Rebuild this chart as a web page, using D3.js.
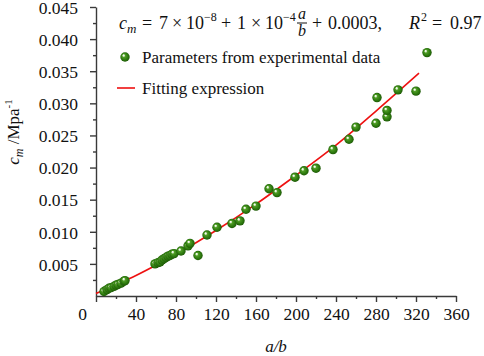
<!DOCTYPE html>
<html>
<head>
<meta charset="utf-8">
<script src="https://cdn.jsdelivr.net/npm/d3@7"></script>
<style>
  body { margin: 0; background: #fff; }
  svg { display: block; font-family: "Liberation Serif", "Times New Roman", serif; }
</style>
</head>
<body>
<div id="chart"></div>
<script>
// experimental points (a/b, c_m)
const ratio = [8, 11, 13, 15, 18, 20, 22, 25, 28, 29,
  59, 62, 64, 66, 68, 70, 72, 74, 76, 78,
  85, 92, 94, 102, 111, 121, 136, 144, 150, 160,
  173, 181, 199, 208, 220, 237, 253, 260, 280, 281,
  291, 291, 302, 320, 331];
const cm = [0.0007, 0.0010, 0.0012, 0.0013, 0.0015, 0.0017, 0.0018, 0.0020, 0.0023, 0.0024,
  0.0050, 0.0052, 0.0053, 0.0056, 0.0058, 0.0060, 0.0062, 0.0063, 0.0065, 0.0066,
  0.0070, 0.0078, 0.0082, 0.0063, 0.0095, 0.0107, 0.0113, 0.0117, 0.0135, 0.0140,
  0.0167, 0.0161, 0.0185, 0.0195, 0.0199, 0.0228, 0.0244, 0.0263, 0.0269, 0.0309,
  0.0279, 0.0289, 0.0321, 0.0319, 0.0379];

// fitting curve
const fitRatio = [0, 40, 80, 120, 160, 200, 240, 280, 323];
const fitCm = [0.0004, 0.0032, 0.0065, 0.0102, 0.0143, 0.0188, 0.0235, 0.0288, 0.0347];

const xTicks = [0, 40, 80, 120, 160, 200, 240, 280, 320, 360];
const yTicks = [0.005, 0.010, 0.015, 0.020, 0.025, 0.030, 0.035, 0.040, 0.045];

const W = 484, H = 356;
const svg = d3.select("#chart").append("svg")
  .attr("width", W)
  .attr("height", H);

const x = d3.scaleLinear().domain([0, 360]).range([96, 456]);
const y = d3.scaleLinear().domain([0, 0.045]).range([296, 7]);

const axisColor = "#3a3a3a";

// dot shading
const grad = svg.append("defs").append("radialGradient")
  .attr("id", "ball")
  .attr("cx", "50%").attr("cy", "50%").attr("r", "55%")
  .attr("fx", "32%").attr("fy", "30%");
grad.append("stop").attr("offset", "0%").attr("stop-color", "#ffffff");
grad.append("stop").attr("offset", "16%").attr("stop-color", "#dcefd0");
grad.append("stop").attr("offset", "32%").attr("stop-color", "#4f9d25");
grad.append("stop").attr("offset", "70%").attr("stop-color", "#2c780e");
grad.append("stop").attr("offset", "100%").attr("stop-color", "#1b5205");

// axes
const minorX = d3.range(20, 360, 40);
const minorY = d3.range(0.0025, 0.045, 0.005);

const xAxis = svg.append("g")
  .attr("transform", `translate(0,${y(0)})`)
  .call(d3.axisBottom(x).tickValues(xTicks).tickSize(6).tickSizeOuter(0).tickPadding(6).tickFormat(d3.format("d")));
svg.append("g")
  .attr("transform", `translate(0,${y(0)})`)
  .call(d3.axisBottom(x).tickValues(minorX).tickSize(3).tickFormat(""))
  .select(".domain").remove();

const yAxis = svg.append("g")
  .attr("transform", `translate(${x(0)},0)`)
  .call(d3.axisLeft(y).tickValues(yTicks).tickSize(6).tickSizeOuter(0).tickPadding(12).tickFormat(d3.format(".3f")));
svg.append("g")
  .attr("transform", `translate(${x(0)},0)`)
  .call(d3.axisLeft(y).tickValues(minorY).tickSize(3).tickFormat(""))
  .select(".domain").remove();

svg.selectAll(".tick line, .domain")
  .attr("stroke", axisColor)
  .attr("stroke-width", 1.4);
svg.selectAll(".tick text")
  .attr("fill", "#111")
  .style("font-family", "'Liberation Serif', serif")
  .style("font-size", "17.5px");
yAxis.selectAll(".tick text").attr("dy", "0.36em");

// the 0 label sits left of the corner
xAxis.selectAll(".tick text").filter(d => d === 0).attr("dx", -14);

// axis titles
svg.append("text")
  .attr("x", (x(0) + x(360)) / 2)
  .attr("y", 352)
  .attr("text-anchor", "middle")
  .style("font-size", "17px")
  .style("font-style", "italic")
  .attr("fill", "#111")
  .text("a/b");

const yl = svg.append("text")
  .attr("transform", `translate(19,132) rotate(-90)`)
  .attr("text-anchor", "middle")
  .style("font-size", "17px")
  .attr("fill", "#111");
yl.append("tspan").style("font-style", "italic").text("c");
yl.append("tspan").style("font-style", "italic").style("font-size", "12px").attr("dy", 4).text("m");
yl.append("tspan").attr("dy", -4).text(" /Mpa");
yl.append("tspan").style("font-size", "11px").attr("dy", -7).text("-1");

// fitting line
svg.append("path")
  .datum(fitRatio.map((r, i) => [r, fitCm[i]]))
  .attr("fill", "none")
  .attr("stroke", "#ee1111")
  .attr("stroke-width", 1.6)
  .attr("d", d3.line().x(d => x(d[0])).y(d => y(d[1])).curve(d3.curveMonotoneX));

// experimental points
svg.append("g")
  .selectAll("circle")
  .data(ratio.map((r, i) => [r, cm[i]]))
  .join("circle")
  .attr("cx", d => x(d[0]))
  .attr("cy", d => y(d[1]))
  .attr("r", 4.7)
  .attr("fill", "url(#ball)");

// legend
svg.append("circle")
  .attr("cx", 125).attr("cy", 57).attr("r", 4.7)
  .attr("fill", "url(#ball)");
svg.append("text")
  .attr("x", 142).attr("y", 63)
  .style("font-size", "17px")
  .attr("fill", "#111")
  .text("Parameters from experimental data");
svg.append("line")
  .attr("x1", 117).attr("x2", 135)
  .attr("y1", 88).attr("y2", 88)
  .attr("stroke", "#ee1111")
  .attr("stroke-width", 1.6);
svg.append("text")
  .attr("x", 142).attr("y", 94)
  .style("font-size", "17px")
  .attr("fill", "#111")
  .text("Fitting expression");

// formula, laid out piece by piece like an equation editor
const eq = svg.append("g")
  .attr("fill", "#111")
  .style("font-size", "18px");
const base = 29;
function piece(px, txt, opts = {}) {
  const t = eq.append("text")
    .attr("x", px)
    .attr("y", base + (opts.dy || 0))
    .text(txt);
  if (opts.italic) t.style("font-style", "italic");
  if (opts.size) t.style("font-size", opts.size + "px");
  if (opts.anchor) t.attr("text-anchor", opts.anchor);
  return t;
}
piece(119, "c", { italic: true });
piece(127, "m", { italic: true, size: 13, dy: 4 });
piece(142, "=");
piece(159, "7");
piece(172, "×");
piece(186, "10");
piece(204, "−8", { size: 12, dy: -8 });
piece(221, "+");
piece(237, "1");
piece(251, "×");
piece(265, "10");
piece(283, "−4", { size: 12, dy: -8 });
piece(302, "a", { italic: true, size: 16, anchor: "middle", dy: -10 });
eq.append("line").attr("x1", 297).attr("x2", 307).attr("y1", base - 6).attr("y2", base - 6)
  .attr("stroke", "#111").attr("stroke-width", 1);
piece(302, "b", { italic: true, size: 16, anchor: "middle", dy: 7 });
piece(312, "+");
piece(328, "0.0003,");
piece(409, "R", { italic: true });
piece(421, "2", { size: 12, dy: -8 });
piece(432, "=");
piece(450, "0.97");
</script>
</body>
</html>
